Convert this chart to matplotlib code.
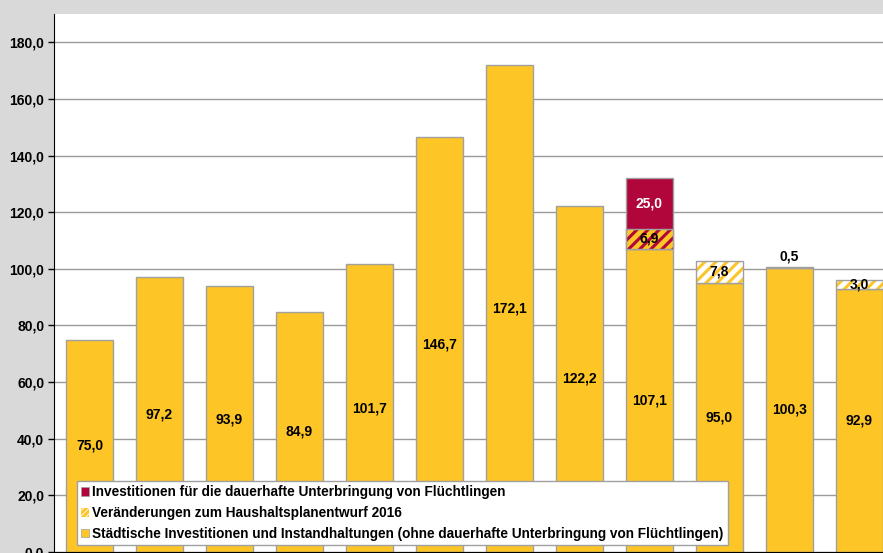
import numpy as np
import matplotlib.pyplot as plt
from matplotlib.patches import Patch

plt.rcParams['font.family'] = ['Liberation Sans', 'DejaVu Sans']
plt.rcParams['hatch.linewidth'] = 2.2

# values in Mio. EUR, one bar per year (axis labels are cut off in the source)
basis = [75.0, 97.2, 93.9, 84.9, 101.7, 146.7, 172.1, 122.2, 107.1, 95.0, 100.3, 92.9]
veraenderung = [0, 0, 0, 0, 0, 0, 0, 0, 6.9, 7.8, 0.5, 3.0]
# refugee money; the 6,9 change is part of it
fluechtlinge = [0, 0, 0, 0, 0, 0, 0, 0, 25.0, 0, 0, 0]

gelb = '#fdc526'
rot = '#b0063c'
rand = '#a0a0a0'

fig = plt.figure(figsize=(8.83, 5.53), dpi=100, facecolor='#d9d9d9')
ax = fig.add_axes([54 / 883, 1 / 553, 829 / 883, 538 / 553])
ax.set_facecolor('white')

x = np.arange(len(basis))
w = 0.66
basis = np.array(basis)
veraenderung = np.array(veraenderung)
fluechtlinge = np.array(fluechtlinge)

ax.set_axisbelow(True)
ax.yaxis.grid(True, color='#9a9a9a', linewidth=1)

# base bars
ax.bar(x, basis, w, color=gelb, edgecolor=rand, linewidth=1, zorder=2)

# refugee accommodation, starts on top of the base
for i in range(len(x)):
    if fluechtlinge[i] > 0:
        ax.bar(x[i], fluechtlinge[i], w, bottom=basis[i], color=rot, edgecolor=rand, linewidth=1, zorder=2)

# changes to draft budget, hatched; inside the refugee bar the stripes are red
for i in range(len(x)):
    v = veraenderung[i]
    if v == 0:
        continue
    if fluechtlinge[i] > 0:
        ax.bar(x[i], v, w, bottom=basis[i], color=gelb, hatch='///', edgecolor=rot, linewidth=0, zorder=3)
    else:
        ax.bar(x[i], v, w, bottom=basis[i], color='white', hatch='///', edgecolor=gelb, linewidth=0, zorder=3)
    ax.bar(x[i], v, w, bottom=basis[i], fill=False, edgecolor=rand, linewidth=1, zorder=4)

def fmt(v):
    return ('%.1f' % v).replace('.', ',')

for i in range(len(x)):
    ax.text(x[i], basis[i] / 2, fmt(basis[i]), ha='center', va='center', fontsize=10, fontweight='bold', zorder=5)
    v = veraenderung[i]
    if v >= 1:
        ax.text(x[i], basis[i] + v / 2, fmt(v), ha='center', va='center', fontsize=10, fontweight='bold', zorder=5)
    elif v > 0:
        ax.text(x[i], basis[i] + v + 1.2, fmt(v), ha='center', va='bottom', fontsize=10, fontweight='bold', zorder=5)
    if fluechtlinge[i] > 0:
        unten = basis[i] + veraenderung[i]
        obenr = basis[i] + fluechtlinge[i]
        ax.text(x[i], (unten + obenr) / 2, fmt(fluechtlinge[i]), ha='center', va='center',
                fontsize=10, fontweight='bold', color='white', zorder=5)

ax.set_ylim(0, 190)
ax.set_xlim(-0.507, 11.336)
ax.set_yticks(np.arange(0, 181, 20))
ax.set_yticklabels([fmt(t) for t in np.arange(0, 181, 20)], fontsize=10, fontweight='bold')
ax.set_xticks([])
ax.tick_params(axis='y', length=4, width=1, color='black', pad=3)

for s in ['top', 'right']:
    ax.spines[s].set_visible(False)
ax.spines['left'].set_color('black')
ax.spines['bottom'].set_color('black')

handles = [
    Patch(facecolor=rot, edgecolor=rand, linewidth=0.5),
    Patch(facecolor='white', edgecolor=gelb, hatch='//////', linewidth=0),
    Patch(facecolor=gelb, edgecolor=rand, linewidth=0.5),
]
labels = [
    'Investitionen für die dauerhafte Unterbringung von Flüchtlingen',
    'Veränderungen zum Haushaltsplanentwurf 2016',
    'Städtische Investitionen und Instandhaltungen (ohne dauerhafte Unterbringung von Flüchtlingen)',
]
leg = ax.legend(handles, labels, loc='lower left', bbox_to_anchor=(0.028, 0.013), borderaxespad=0,
                prop={'weight': 'bold', 'size': 9.8}, handlelength=0.6, handleheight=0.6,
                handletextpad=0.2, labelspacing=0.5, borderpad=0.3, frameon=True, fancybox=False,
                edgecolor='#a0a0a0', framealpha=1)
leg.get_frame().set_linewidth(1)
leg.set_zorder(6)

fig.savefig('out.png', dpi=100, facecolor=fig.get_facecolor())
